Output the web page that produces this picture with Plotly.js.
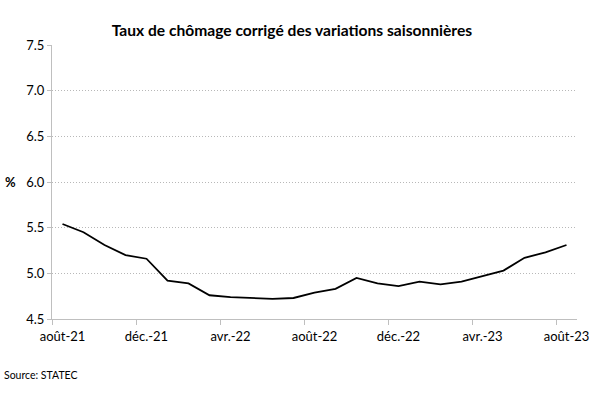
<!DOCTYPE html>
<html>
<head>
<meta charset="utf-8">
<script src="https://cdn.plot.ly/plotly-3.0.1.min.js"></script>
<style>html,body{margin:0;padding:0;background:#fff;}#chart{width:600px;height:397px;}</style>
</head>
<body>
<div id="chart"></div>
<script>
var months = ["août-21","sept.-21","oct.-21","nov.-21","déc.-21","janv.-22","févr.-22","mars-22","avr.-22","mai-22","juin-22","juil.-22",
  "août-22","sept.-22","oct.-22","nov.-22","déc.-22","janv.-23","févr.-23","mars-23","avr.-23","mai-23","juin-23","juil.-23","août-23"];
var rate = [5.54,5.45,5.31,5.20,5.16,4.92,4.89,4.76,4.74,4.73,4.72,4.73,
  4.79,4.83,4.95,4.89,4.86,4.91,4.88,4.91,4.97,5.03,5.17,5.23,5.31];
var yTicks = [4.5,5.0,5.5,6.0,6.5,7.0,7.5];

var FONT = "Lato, 'Open Sans', sans-serif";
// each month centred in its slot; tick marks sit on slot boundaries
var xPos = months.map(function(m,i){return i+0.5;});
var labelIdx = months.map(function(m,i){return i;}).filter(function(i){return i%4===0;});

var trace = {
  x: xPos, y: rate, type: "scatter", mode: "lines",
  line: {color: "#000000", width: 1.8},
  text: months, hoverinfo: "text+y"
};

var layout = {
  width: 600, height: 397,
  margin: {l: 52, r: 23, t: 45, b: 78},
  paper_bgcolor: "#fff", plot_bgcolor: "#fff",
  showlegend: false,
  font: {family: FONT, size: 13, color: "#000"},
  title: {text: "<b>Taux de chômage corrigé des variations saisonnières</b>",
    font: {family: FONT, size: 15.6, color: "#000"},
    x: 0.457, xref: "paper", xanchor: "center", y: 0.922, yanchor: "middle"},
  xaxis: {
    range: [0, months.length],
    tickmode: "array",
    tickvals: labelIdx.map(function(i){return xPos[i];}),
    ticktext: labelIdx.map(function(i){return months[i];}),
    ticks: "outside", ticklen: 5, tickcolor: "rgba(0,0,0,0)", tickwidth: 1,
    minor: {tick0: 0, dtick: 4, ticks: "outside", ticklen: 5, tickcolor: "#bfbfbf", tickwidth: 1, showgrid: false},
    showline: true, linecolor: "#bfbfbf", linewidth: 1,
    showgrid: false, zeroline: false,
    tickfont: {family: FONT, size: 13, color: "#000"}
  },
  yaxis: {
    range: [4.5, 7.5],
    tickmode: "array",
    tickvals: yTicks,
    ticktext: yTicks.map(function(v){return v.toFixed(1);}),
    ticks: "outside", ticklen: 4, tickcolor: "#bfbfbf", tickwidth: 1,
    showline: true, linecolor: "#bfbfbf", linewidth: 1,
    showgrid: true, gridcolor: "#b8b8b8", griddash: "1px,2px", gridwidth: 1,
    zeroline: false,
    tickfont: {family: FONT, size: 13, color: "#000"}
  },
  annotations: [
    {text: "<b>%</b>", xref: "paper", yref: "y", x: -0.093, y: 6.0,
     xanchor: "left", yanchor: "middle", showarrow: false,
     font: {family: FONT, size: 13, color: "#000"}},
    {text: "Source: STATEC", xref: "paper", yref: "paper", x: -0.096, y: -0.204,
     xanchor: "left", yanchor: "middle", showarrow: false,
     font: {family: FONT, size: 10.5, color: "#000"}}
  ]
};

Plotly.newPlot("chart", [trace], layout, {staticPlot: true, displayModeBar: false});
</script>
</body>
</html>
